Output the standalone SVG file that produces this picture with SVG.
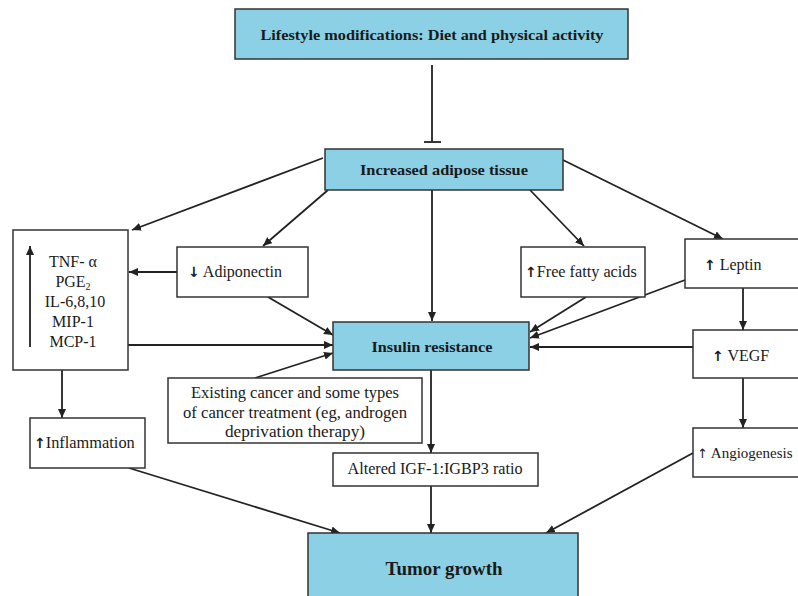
<svg xmlns="http://www.w3.org/2000/svg" width="798" height="596" viewBox="0 0 798 596">
<style>
.box{fill:#ffffff;stroke:#333;stroke-width:1.5}
.blue{fill:#8bd0e4;stroke:#333;stroke-width:1.5}
.t{font-family:"Liberation Serif","Times New Roman",serif;font-size:16px;fill:#1a1a1a}
.b{font-family:"Liberation Serif","Times New Roman",serif;font-size:15px;font-weight:bold;fill:#1a1a1a}
.c{text-anchor:middle}
.up{font-family:"DejaVu Sans",sans-serif;font-weight:bold;fill:#1a1a1a}
.ln{stroke:#222;stroke-width:1.8;fill:none}
.ar{marker-end:url(#ah)}
</style>
<defs>
<marker id="ah" markerUnits="userSpaceOnUse" markerWidth="10" markerHeight="8" refX="9" refY="4" orient="auto">
<path d="M0,0 L9,4 L0,8 z" fill="#222"/>
</marker>
</defs>
<rect width="798" height="596" fill="#ffffff"/>
<g id="connectors">
<line class="ln" x1="432" y1="65" x2="432" y2="142"/>
<line class="ln" x1="424" y1="142" x2="441" y2="142"/>
<line class="ln ar" x1="323" y1="158" x2="132" y2="230"/>
<line class="ln ar" x1="328" y1="190" x2="263" y2="246"/>
<line class="ln ar" x1="432" y1="190" x2="432" y2="321"/>
<line class="ln ar" x1="530" y1="190" x2="584" y2="246"/>
<line class="ln ar" x1="563" y1="160" x2="723" y2="239"/>
<line class="ln ar" x1="177" y1="272" x2="129" y2="272"/>
<line class="ln ar" x1="268" y1="297" x2="333" y2="335"/>
<line class="ln ar" x1="128" y1="345" x2="333" y2="345"/>
<line class="ln ar" x1="255" y1="378" x2="333" y2="353"/>
<line class="ln ar" x1="62" y1="370" x2="62" y2="418"/>
<line class="ln ar" x1="586" y1="297" x2="530" y2="332"/>
<line class="ln ar" x1="685" y1="280" x2="530" y2="338"/>
<line class="ln ar" x1="693" y1="347" x2="530" y2="347"/>
<line class="ln ar" x1="743" y1="288" x2="743" y2="330"/>
<line class="ln ar" x1="743" y1="378" x2="743" y2="428"/>
<line class="ln ar" x1="431" y1="370" x2="431" y2="453"/>
<line class="ln ar" x1="431" y1="486" x2="431" y2="533"/>
<line class="ln ar" x1="129" y1="468" x2="340" y2="533"/>
<line class="ln ar" x1="693" y1="453" x2="546" y2="533"/>
</g>
<g id="lifestyle">
<rect class="blue" x="235" y="9" width="393" height="50"/>
<text class="b c" x="432" y="40" textLength="343" lengthAdjust="spacingAndGlyphs">Lifestyle modifications: Diet and physical activity</text>
</g>
<g id="adipose">
<rect class="blue" x="325" y="149" width="238" height="41"/>
<text class="b c" x="444" y="175" textLength="168" lengthAdjust="spacingAndGlyphs">Increased adipose tissue</text>
</g>
<g id="cytokines">
<rect class="box" x="13" y="230" width="115" height="140"/>
<line class="ln ar" x1="30" y1="347" x2="30" y2="246"/>
<text class="t c" x="73" y="267">TNF- α</text>
<text class="t c" x="73" y="287">PGE<tspan font-size="10" dy="3">2</tspan></text>
<text class="t c" x="75" y="307">IL-6,8,10</text>
<text class="t c" x="73" y="327">MIP-1</text>
<text class="t c" x="73" y="347">MCP-1</text>
</g>
<g id="adiponectin">
<rect class="box" x="177" y="247" width="131" height="50"/>
<text class="t" x="188" y="277"><tspan class="up" font-size="14">↓</tspan> Adiponectin</text>
</g>
<g id="ffa">
<rect class="box" x="521" y="247" width="124" height="50"/>
<text class="t" x="525" y="277"><tspan class="up" font-size="14">↑</tspan><tspan textLength="100" lengthAdjust="spacingAndGlyphs">Free fatty acids</tspan></text>
</g>
<g id="leptin">
<rect class="box" x="685" y="239" width="120" height="49"/>
<text class="t" x="704" y="270"><tspan class="up" font-size="14">↑</tspan> Leptin</text>
</g>
<g id="insulin">
<rect class="blue" x="333" y="322" width="196" height="48"/>
<text class="b c" x="432" y="352" textLength="121" lengthAdjust="spacingAndGlyphs">Insulin resistance</text>
</g>
<g id="vegf">
<rect class="box" x="693" y="330" width="112" height="48"/>
<text class="t" x="712" y="361"><tspan class="up" font-size="14">↑</tspan> VEGF</text>
</g>
<g id="existing">
<rect class="box" x="168" y="378" width="254" height="65"/>
<text class="t c" x="295" y="398" textLength="208" lengthAdjust="spacingAndGlyphs">Existing cancer and some types</text>
<text class="t c" x="295" y="418" textLength="224" lengthAdjust="spacingAndGlyphs">of cancer treatment (eg, androgen</text>
<text class="t c" x="295" y="437" textLength="140" lengthAdjust="spacingAndGlyphs">deprivation therapy)</text>
</g>
<g id="inflammation">
<rect class="box" x="30" y="418" width="115" height="50"/>
<text class="t" x="34" y="448"><tspan class="up" font-size="14">↑</tspan><tspan textLength="89" lengthAdjust="spacingAndGlyphs">Inflammation</tspan></text>
</g>
<g id="angiogenesis">
<rect class="box" x="693" y="428" width="112" height="49"/>
<text class="t" x="697" y="458" style="font-size:15px"><tspan font-family="DejaVu Sans, sans-serif" font-size="13">↑</tspan> Angiogenesis</text>
</g>
<g id="igf">
<rect class="box" x="333" y="453" width="205" height="33"/>
<text class="t c" x="435" y="474" textLength="175" lengthAdjust="spacingAndGlyphs">Altered IGF-1:IGBP3 ratio</text>
</g>
<g id="tumor">
<rect class="blue" x="308" y="533" width="270" height="70"/>
<text class="b c" x="444" y="575" textLength="117" lengthAdjust="spacingAndGlyphs" style="font-size:18px">Tumor growth</text>
</g>
</svg>
